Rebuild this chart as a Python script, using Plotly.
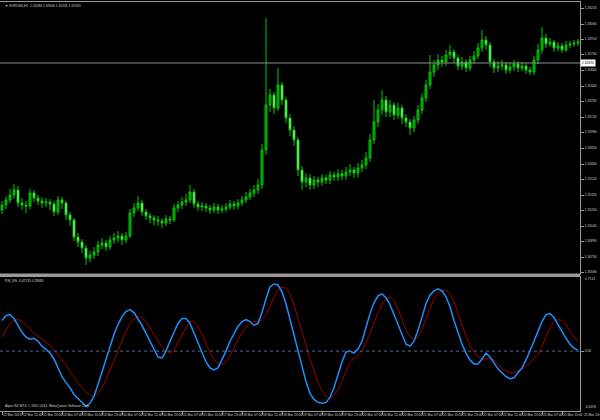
import plotly.graph_objects as go

# ---------------- data ----------------
opens = [1.3120,1.3125,1.3130,1.3135,1.3140,1.3127,1.3125,1.3124,1.3137,1.3132,1.3129,1.3127,1.3128,1.3126,1.3118,1.3130,1.3127,1.3115,1.3110,1.3093,
         1.3088,1.3082,1.3072,1.3075,1.3078,1.3085,1.3087,1.3083,1.3090,1.3092,1.3094,1.3090,1.3094,1.3117,1.3122,1.3127,1.3118,1.3114,1.3112,1.3110,
         1.3109,1.3107,1.3111,1.3110,1.3122,1.3125,1.3128,1.3130,1.3138,1.3126,1.3123,1.3124,1.3122,1.3120,1.3123,1.3120,1.3121,1.3123,1.3126,1.3124,
         1.3127,1.3130,1.3133,1.3137,1.3140,1.3145,1.3180,1.3225,1.3235,1.3222,1.3245,1.3230,1.3212,1.3200,1.3190,1.3160,1.3148,1.3152,1.3145,1.3150,
         1.3148,1.3152,1.3150,1.3155,1.3153,1.3156,1.3154,1.3158,1.3160,1.3157,1.3162,1.3165,1.3172,1.3190,1.3208,1.3220,1.3230,1.3218,1.3225,1.3215,
         1.3222,1.3212,1.3208,1.3202,1.3210,1.3220,1.3232,1.3245,1.3258,1.3265,1.3270,1.3268,1.3275,1.3278,1.3272,1.3264,1.3268,1.3262,1.3270,1.3274,
         1.3282,1.3290,1.3285,1.3268,1.3262,1.3264,1.3265,1.3260,1.3263,1.3266,1.3262,1.3264,1.3260,1.3258,1.3270,1.3280,1.3292,1.3286,1.3288,1.3282,
         1.3284,1.3280,1.3285,1.3286,1.3287]
closes = [1.3125,1.3130,1.3135,1.3140,1.3127,1.3125,1.3124,1.3137,1.3132,1.3129,1.3127,1.3128,1.3126,1.3118,1.3130,1.3127,1.3115,1.3110,1.3093,1.3088,
          1.3082,1.3072,1.3075,1.3078,1.3085,1.3087,1.3083,1.3090,1.3092,1.3094,1.3090,1.3094,1.3117,1.3122,1.3127,1.3118,1.3114,1.3112,1.3110,1.3109,
          1.3107,1.3111,1.3110,1.3122,1.3125,1.3128,1.3130,1.3138,1.3126,1.3123,1.3124,1.3122,1.3120,1.3123,1.3120,1.3121,1.3123,1.3126,1.3124,1.3127,
          1.3130,1.3133,1.3137,1.3140,1.3145,1.3180,1.3225,1.3235,1.3222,1.3245,1.3230,1.3212,1.3200,1.3190,1.3160,1.3148,1.3152,1.3145,1.3150,1.3148,
          1.3152,1.3150,1.3155,1.3153,1.3156,1.3154,1.3158,1.3160,1.3157,1.3162,1.3165,1.3172,1.3190,1.3208,1.3220,1.3230,1.3218,1.3225,1.3215,1.3222,
          1.3212,1.3208,1.3202,1.3210,1.3220,1.3232,1.3245,1.3258,1.3265,1.3270,1.3268,1.3275,1.3278,1.3272,1.3264,1.3268,1.3262,1.3270,1.3274,1.3282,
          1.3290,1.3285,1.3268,1.3262,1.3264,1.3265,1.3260,1.3263,1.3266,1.3262,1.3264,1.3260,1.3258,1.3270,1.3280,1.3292,1.3286,1.3288,1.3282,1.3284,
          1.3280,1.3285,1.3286,1.3287,1.3288]
highs = [1.3129,1.3134,1.3141,1.3146,1.3144,1.3132,1.3129,1.3141,1.3140,1.3135,1.3133,1.3132,1.3131,1.3129,1.3134,1.3133,1.3129,1.3118,1.3112,1.3097,
         1.3091,1.3085,1.3079,1.3083,1.3089,1.3092,1.3090,1.3094,1.3097,1.3099,1.3097,1.3098,1.3121,1.3127,1.3134,1.3130,1.3121,1.3117,1.3115,1.3114,
         1.3112,1.3115,1.3114,1.3126,1.3129,1.3133,1.3136,1.3145,1.3141,1.3129,1.3128,1.3127,1.3125,1.3127,1.3126,1.3125,1.3127,1.3130,1.3129,1.3131,
         1.3134,1.3138,1.3141,1.3145,1.3151,1.3186,1.3312,1.3241,1.3238,1.3262,1.3248,1.3233,1.3216,1.3204,1.3193,1.3164,1.3157,1.3156,1.3154,1.3153,
         1.3156,1.3155,1.3159,1.3158,1.3161,1.3160,1.3163,1.3166,1.3163,1.3167,1.3170,1.3178,1.3196,1.3230,1.3226,1.3240,1.3234,1.3230,1.3228,1.3227,
         1.3225,1.3216,1.3211,1.3214,1.3225,1.3237,1.3250,1.3275,1.3270,1.3276,1.3274,1.3280,1.3285,1.3281,1.3275,1.3273,1.3271,1.3274,1.3279,1.3287,
         1.3300,1.3294,1.3288,1.3271,1.3269,1.3270,1.3268,1.3267,1.3270,1.3269,1.3268,1.3267,1.3263,1.3274,1.3286,1.3303,1.3296,1.3292,1.3290,1.3288,
         1.3287,1.3289,1.3289,1.3290,1.3291]
lows = [1.3116,1.3121,1.3127,1.3131,1.3123,1.3120,1.3117,1.3121,1.3128,1.3125,1.3122,1.3123,1.3120,1.3114,1.3115,1.3121,1.3110,1.3104,1.3089,1.3083,
        1.3077,1.3065,1.3068,1.3071,1.3074,1.3081,1.3079,1.3080,1.3086,1.3088,1.3085,1.3087,1.3092,1.3113,1.3119,1.3114,1.3110,1.3107,1.3105,1.3104,
        1.3102,1.3104,1.3106,1.3108,1.3118,1.3121,1.3124,1.3127,1.3122,1.3119,1.3119,1.3118,1.3116,1.3117,1.3116,1.3117,1.3118,1.3120,1.3120,1.3121,
        1.3124,1.3127,1.3130,1.3133,1.3136,1.3141,1.3175,1.3218,1.3216,1.3219,1.3225,1.3207,1.3194,1.3184,1.3154,1.3140,1.3143,1.3140,1.3141,1.3143,
        1.3144,1.3146,1.3146,1.3149,1.3149,1.3150,1.3150,1.3154,1.3152,1.3153,1.3158,1.3161,1.3168,1.3186,1.3203,1.3215,1.3213,1.3213,1.3210,1.3211,
        1.3206,1.3203,1.3195,1.3198,1.3206,1.3216,1.3228,1.3241,1.3253,1.3260,1.3263,1.3264,1.3271,1.3267,1.3260,1.3260,1.3258,1.3259,1.3266,1.3271,
        1.3278,1.3280,1.3263,1.3257,1.3258,1.3260,1.3256,1.3257,1.3259,1.3258,1.3259,1.3256,1.3255,1.3255,1.3266,1.3276,1.3282,1.3283,1.3278,1.3279,
        1.3277,1.3278,1.3282,1.3283,1.3284]

rsi_main = [0.31,0.36,0.37,0.33,0.26,0.19,0.14,0.12,0.13,0.10,0.05,0.01,-0.02,-0.08,-0.17,-0.26,-0.32,-0.37,-0.44,-0.48,
            -0.52,-0.56,-0.53,-0.46,-0.34,-0.21,-0.08,0.05,0.17,0.27,0.35,0.40,0.42,0.39,0.33,0.26,0.18,0.10,0.02,-0.06,
            -0.07,0.00,0.10,0.20,0.28,0.33,0.33,0.28,0.18,0.07,-0.02,-0.11,-0.17,-0.19,-0.17,-0.09,0.00,0.10,0.18,0.25,
            0.30,0.32,0.30,0.26,0.28,0.39,0.53,0.65,0.68,0.67,0.60,0.48,0.32,0.16,0.00,-0.17,-0.31,-0.43,-0.49,-0.52,
            -0.53,-0.52,-0.47,-0.37,-0.24,-0.11,-0.01,0.00,-0.02,0.02,0.10,0.24,0.38,0.49,0.56,0.58,0.54,0.47,0.37,0.26,
            0.15,0.07,0.05,0.10,0.21,0.35,0.48,0.57,0.61,0.63,0.61,0.55,0.45,0.31,0.18,0.07,-0.02,-0.09,-0.13,-0.13,
            -0.08,-0.02,-0.06,-0.12,-0.18,-0.22,-0.26,-0.28,-0.27,-0.22,-0.17,-0.09,0.00,0.10,0.20,0.30,0.37,0.38,0.34,0.27,
            0.19,0.13,0.07,0.03,0.01]
rsi_signal = [0.14,0.22,0.28,0.31,0.32,0.30,0.27,0.22,0.18,0.15,0.12,0.09,0.06,0.01,-0.04,-0.09,-0.14,-0.21,-0.27,-0.32,
              -0.37,-0.42,-0.44,-0.46,-0.43,-0.37,-0.29,-0.19,-0.08,0.02,0.11,0.20,0.28,0.33,0.35,0.34,0.30,0.24,0.17,0.10,
              0.04,0.00,-0.02,0.01,0.08,0.16,0.24,0.30,0.30,0.25,0.17,0.08,-0.02,-0.08,-0.12,-0.14,-0.11,-0.05,0.03,0.11,
              0.19,0.24,0.28,0.30,0.30,0.32,0.37,0.45,0.55,0.62,0.65,0.64,0.58,0.47,0.34,0.21,0.06,-0.08,-0.21,-0.32,
              -0.40,-0.46,-0.48,-0.45,-0.39,-0.30,-0.21,-0.12,-0.07,-0.04,0.01,0.08,0.18,0.29,0.39,0.47,0.53,0.55,0.51,0.43,
              0.33,0.21,0.15,0.12,0.14,0.22,0.33,0.44,0.53,0.59,0.61,0.62,0.58,0.50,0.38,0.26,0.15,0.06,-0.01,-0.06,
              -0.08,-0.08,-0.07,-0.09,-0.13,-0.18,-0.20,-0.22,-0.22,-0.20,-0.18,-0.15,-0.12,-0.08,-0.03,0.05,0.15,0.24,0.30,0.32,
              0.31,0.27,0.20,0.14,0.09]

time_labels = ["12 Mar 2013","12 Mar 15:00","12 Mar 23:00","13 Mar 07:00","13 Mar 15:00","13 Mar 23:00",
               "14 Mar 07:00","14 Mar 15:00","14 Mar 23:00","15 Mar 07:00","15 Mar 15:00","17 Mar 23:00",
               "18 Mar 07:00","18 Mar 15:00","18 Mar 23:00","19 Mar 07:00","19 Mar 15:00","19 Mar 23:00",
               "20 Mar 07:00","20 Mar 15:00","20 Mar 23:00","21 Mar 07:00","21 Mar 15:00","21 Mar 23:00",
               "22 Mar 07:00","22 Mar 15:00","24 Mar 23:00","25 Mar 07:00","25 Mar 15:00","25 Mar 23:00"]
label_step = 5
price_ticks = [1.33220,1.33060,1.32910,1.32760,1.32600,1.32440,1.32290,1.32130,1.31980,
               1.31820,1.31660,1.31510,1.31350,1.31200,1.31040,1.30890,1.30730,1.30580]
hline_price = 1.32670
ind_max = 0.7512
ind_min = -0.6076
symbol_title = "\u25bc EURUSD,H1  1.32586 1.32600 1.32531 1.32533"
ind_title = "RSI_NS -0.02745 0.28685"
copyright_txt = "Alpari NZ MT4, \u00a9 2001-2014, MetaQuotes Software Corp."

n = len(closes)
idx = list(range(n))

W, H = 600, 420
def py(p):  # pixel row -> paper y
    return 1 - p / H

FONT = "Liberation Sans"
FS = 3.3
TXT = "#d0d0d0"
FRAME = "#9a9a9a"

fig = go.Figure()
fig.add_trace(go.Candlestick(
    x=idx, open=opens, high=highs, low=lows, close=closes,
    xaxis="x", yaxis="y",
    increasing=dict(line=dict(color="#00c800", width=1), fillcolor="#008a00"),
    decreasing=dict(line=dict(color="#00c800", width=1), fillcolor="#d8fbd8"),
    whiskerwidth=0, showlegend=False, hoverinfo="skip"))
fig.add_trace(go.Scatter(x=idx, y=rsi_signal, mode="lines", xaxis="x2", yaxis="y2",
                         line=dict(color="#9a0000", width=1), showlegend=False, hoverinfo="skip"))
fig.add_trace(go.Scatter(x=idx, y=rsi_main, mode="lines", xaxis="x2", yaxis="y2",
                         line=dict(color="#1e90ff", width=1.5), showlegend=False, hoverinfo="skip"))

xr = [-0.5, n - 0.5]
xdom = [0, 580 / W]
tickpos = [i * label_step for i in range(len(time_labels)) if i * label_step < n]

fig.update_layout(
    width=W, height=H, margin=dict(l=0, r=0, t=0, b=0, autoexpand=False),
    paper_bgcolor="black", plot_bgcolor="black",
    font=dict(family=FONT, size=FS, color=TXT),
    xaxis=dict(domain=xdom, range=xr, anchor="y", showgrid=False, zeroline=False,
               showticklabels=False, showline=True, linecolor=FRAME, mirror=True,
               rangeslider=dict(visible=False), fixedrange=True, automargin=False),
    yaxis=dict(domain=[py(274), py(2)], range=[1.3330 - 274 / 10000, 1.3330 - 2 / 10000],
               side="right", anchor="x", showgrid=False, zeroline=False, automargin=False,
               tickvals=price_ticks, ticktext=[f"{v:.5f}" for v in price_ticks],
               ticks="outside", ticklen=3, tickcolor=FRAME, tickfont=dict(size=FS, color=TXT),
               showline=True, linecolor=FRAME, mirror=True),
    xaxis2=dict(domain=xdom, range=xr, anchor="y2", showgrid=False, zeroline=False, automargin=False,
                tickvals=tickpos, ticktext=time_labels[:len(tickpos)], tickangle=0,
                ticks="outside", ticklen=3, tickcolor=FRAME, ticklabelposition="outside right",
                tickfont=dict(size=FS, color=TXT), showline=True, linecolor=FRAME, mirror=True),
    yaxis2=dict(domain=[py(411), py(277)], range=[ind_min, ind_max],
                side="right", anchor="x2", showgrid=False, zeroline=False, automargin=False,
                tickvals=[0], ticktext=["0.00"], ticks="outside", ticklen=3, tickcolor=FRAME,
                tickfont=dict(size=FS, color=TXT), showline=True, linecolor=FRAME, mirror=True),
)

# separator band between panels
fig.add_shape(type="rect", xref="paper", yref="paper", x0=0, x1=580 / W, y0=py(276.5), y1=py(273.5),
              fillcolor=FRAME, line=dict(width=0))
# current price line
fig.add_shape(type="line", xref="x", yref="y", x0=xr[0], x1=xr[1], y0=hline_price, y1=hline_price,
              line=dict(color="#8c8c8c", width=1))
# zero level (dotted)
fig.add_shape(type="line", xref="x2", yref="y2", x0=xr[0], x1=xr[1], y0=0, y1=0,
              line=dict(color="#4a6a9a", width=1, dash="dot"))

ann = []
ann.append(dict(x=580 / W, y=hline_price, xref="paper", yref="y", text=f"{hline_price:.5f}",
                showarrow=False, xanchor="left", yanchor="middle", bgcolor="white",
                font=dict(size=FS, color="black"), borderpad=1))
ann.append(dict(x=3 / W, y=py(6), xref="paper", yref="paper", text=symbol_title, showarrow=False,
                xanchor="left", yanchor="middle", font=dict(size=FS, color=TXT)))
ann.append(dict(x=3 / W, y=py(281), xref="paper", yref="paper", text=ind_title, showarrow=False,
                xanchor="left", yanchor="middle", font=dict(size=FS, color=TXT)))
ann.append(dict(x=3 / W, y=py(406), xref="paper", yref="paper", text=copyright_txt, showarrow=False,
                xanchor="left", yanchor="middle", font=dict(size=FS, color=TXT)))
ann.append(dict(x=583 / W, y=py(279), xref="paper", yref="paper", text=f"{ind_max:.4f}", showarrow=False,
                xanchor="left", yanchor="middle", font=dict(size=FS, color=TXT)))
ann.append(dict(x=583 / W, y=py(407), xref="paper", yref="paper", text=f"{ind_min:.4f}", showarrow=False,
                xanchor="left", yanchor="middle", font=dict(size=FS, color=TXT)))
if len(time_labels) > len(tickpos):
    ann.append(dict(x=582 / W, y=py(415), xref="paper", yref="paper", text=time_labels[len(tickpos)],
                    showarrow=False, xanchor="left", yanchor="middle", font=dict(size=FS, color=TXT)))
fig.update_layout(annotations=ann)

fig.write_html("out.html", config={"staticPlot": True, "displayModeBar": False},
               post_script="document.body.style.margin='0';document.body.style.overflow='hidden';")
